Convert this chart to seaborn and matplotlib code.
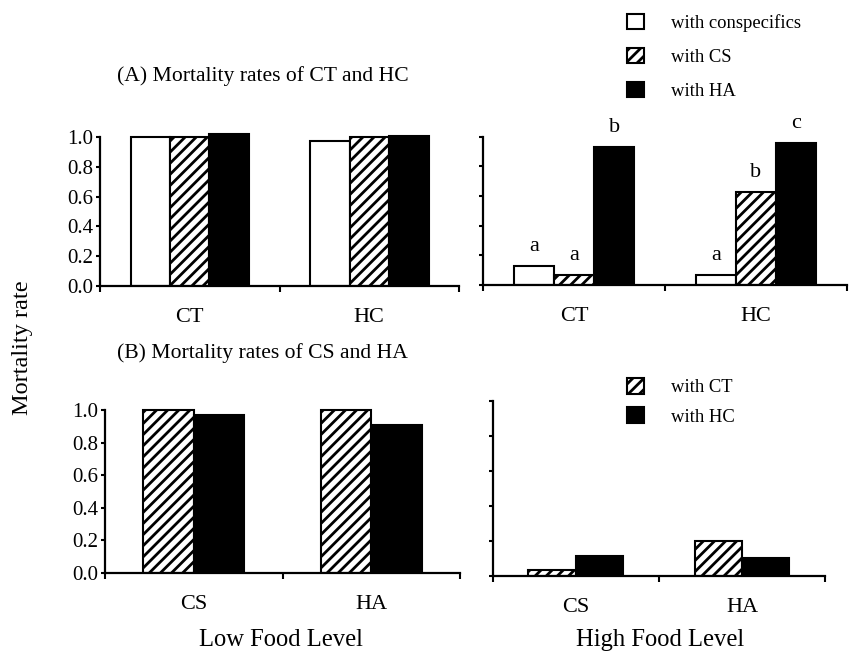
import numpy as np
import pandas as pd
import seaborn as sns
import matplotlib.pyplot as plt
from matplotlib.patches import Patch
from matplotlib.ticker import FormatStrFormatter

# (A) CT and HC mortality, three partner treatments
prey_a = ["CT", "HC"]
partners_a = ["with conspecifics", "with CS", "with HA"]
low_a_ct = [1.0, 1.0, 1.02]
low_a_hc = [0.97, 1.0, 1.01]
high_a_ct = [0.13, 0.07, 0.93]
high_a_hc = [0.07, 0.63, 0.96]
letters_a_ct = ["a", "a", "b"]
letters_a_hc = ["a", "b", "c"]

# (B) CS and HA mortality, two partner treatments
prey_b = ["CS", "HA"]
partners_b = ["with CT", "with HC"]
low_b_cs = [1.0, 0.97]
low_b_ha = [1.0, 0.91]
high_b_cs = [0.03, 0.11]
high_b_ha = [0.20, 0.10]


def make_df(prey, partners, rows):
    recs = []
    for p, vals in zip(prey, rows):
        for q, v in zip(partners, vals):
            recs.append({"prey": p, "partner": q, "rate": v})
    return pd.DataFrame(recs)


sns.set_theme(style="ticks")
plt.rcParams['font.family'] = ['Liberation Serif', 'DejaVu Serif']
plt.rcParams['hatch.linewidth'] = 2.0
plt.rcParams['axes.linewidth'] = 1.6
for k in ['text.color', 'axes.edgecolor', 'axes.labelcolor', 'xtick.color', 'ytick.color']:
    plt.rcParams[k] = 'black'

fig = plt.figure(figsize=(8.51, 6.52), dpi=100)

# axes rects (left, bottom, width, height) in figure fraction
ax_al = fig.add_axes([0.1175, 0.5613, 0.4219, 0.240])
ax_ar = fig.add_axes([0.5676, 0.5629, 0.4277, 0.2388])
ax_bl = fig.add_axes([0.1234, 0.1212, 0.4172, 0.2625])
ax_br = fig.add_axes([0.5790, 0.1170, 0.3905, 0.2818])

pal_a = ["white", "white", "black"]
pal_b = ["white", "black"]


def draw(ax, df, partners, pal, width, hatched, show_labels):
    sns.barplot(data=df, x="prey", y="rate", hue="partner", hue_order=partners,
                palette=pal, width=width, edgecolor="black", linewidth=1.5,
                legend=False, ax=ax, errorbar=None, saturation=1)
    for i, cont in enumerate(ax.containers):
        if i == hatched:
            for bar in cont:
                bar.set_hatch("///")
    ax.set_xlim(-0.5, 1.5)
    ax.set_ylim(0, 1.05)
    ax.spines["left"].set_bounds(0, 1.0)
    ax.spines["top"].set_visible(False)
    ax.spines["right"].set_visible(False)
    ax.set_yticks(np.arange(0, 1.01, 0.2))
    ax.yaxis.set_major_formatter(FormatStrFormatter("%.1f"))
    ax.tick_params(axis="y", length=3, width=1.5, labelsize=15,
                   labelleft=show_labels, pad=2)
    ax.set_xticks([-0.5, 0.5, 1.5], minor=True)
    ax.tick_params(axis="x", which="major", length=0, pad=16, labelsize=16)
    ax.tick_params(axis="x", which="minor", length=4, width=1.5)
    ax.set_xlabel("")
    ax.set_ylabel("")


draw(ax_al, make_df(prey_a, partners_a, [low_a_ct, low_a_hc]), partners_a, pal_a, 0.66, 1, True)
draw(ax_ar, make_df(prey_a, partners_a, [high_a_ct, high_a_hc]), partners_a, pal_a, 0.66, 1, False)
draw(ax_bl, make_df(prey_b, partners_b, [low_b_cs, low_b_ha]), partners_b, pal_b, 0.57, 0, True)
draw(ax_br, make_df(prey_b, partners_b, [high_b_cs, high_b_ha]), partners_b, pal_b, 0.57, 0, False)

# significance letters above the high-food bars
letters = [letters_a_ct, letters_a_hc]
for i, cont in enumerate(ax_ar.containers):
    for j, bar in enumerate(cont):
        ax_ar.annotate(letters[j][i], (bar.get_x() + bar.get_width() / 2, bar.get_height()),
                       xytext=(0, 7), textcoords="offset points", ha="center", va="bottom",
                       fontsize=16, annotation_clip=False)

fig.text(0.1375, 0.883, "(A) Mortality rates of CT and HC", fontsize=15.6, va="center")
fig.text(0.1375, 0.458, "(B) Mortality rates of CS and HA", fontsize=15.6, va="center")
fig.text(0.027, 0.466, "Mortality rate", fontsize=17.5, rotation=90, ha="center", va="center")
fig.text(0.330, 0.019, "Low Food Level", fontsize=17.7, ha="center", va="center")
fig.text(0.776, 0.019, "High Food Level", fontsize=17.7, ha="center", va="center")

handles_a = [Patch(facecolor="white", edgecolor="black", linewidth=1.5),
             Patch(facecolor="white", edgecolor="black", linewidth=1.5, hatch="///"),
             Patch(facecolor="black", edgecolor="black", linewidth=1.5)]
fig.legend(handles_a, partners_a, loc="upper left", bbox_to_anchor=(0.737, 0.979),
           frameon=False, fontsize=13.4, handlelength=0.9, handleheight=0.9,
           handletextpad=1.45, labelspacing=0.85, borderpad=0, borderaxespad=0)

handles_b = [Patch(facecolor="white", edgecolor="black", linewidth=1.5, hatch="///"),
             Patch(facecolor="black", edgecolor="black", linewidth=1.5)]
fig.legend(handles_b, partners_b, loc="upper left", bbox_to_anchor=(0.737, 0.42),
           frameon=False, fontsize=13.4, handlelength=0.9, handleheight=0.9,
           handletextpad=1.45, labelspacing=0.6, borderpad=0, borderaxespad=0)

fig.savefig("out.png", dpi=100)
